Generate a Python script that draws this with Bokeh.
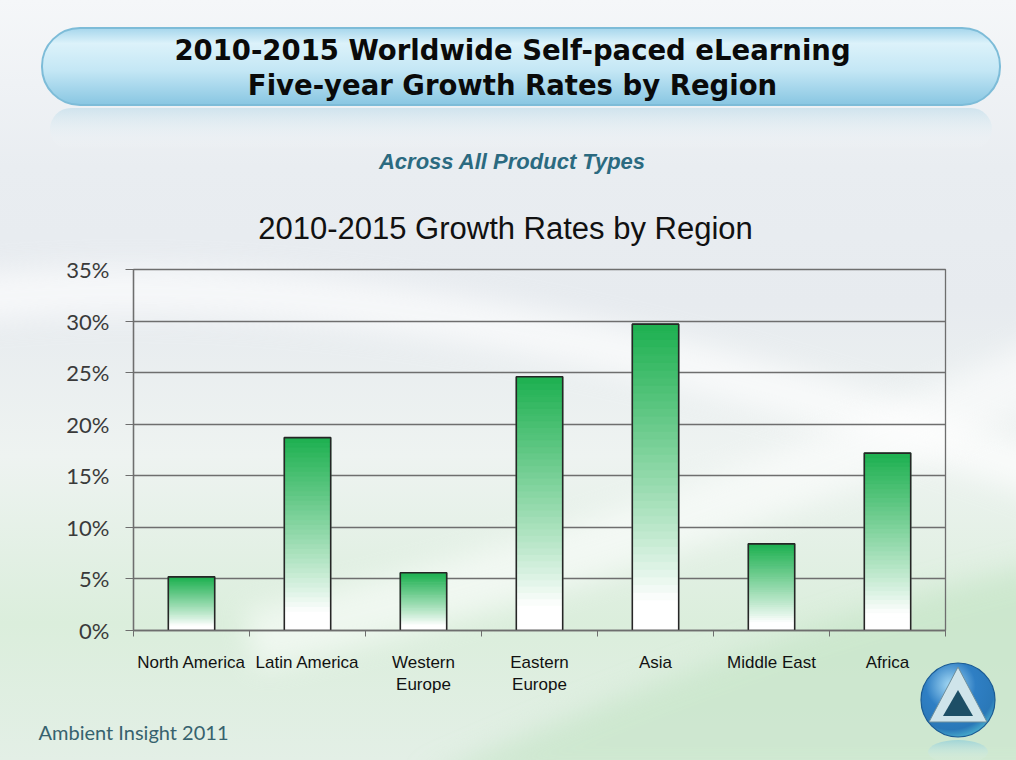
from urllib.parse import quote
from bokeh.plotting import figure
from bokeh.layouts import column
from bokeh.models import (Range1d, FixedTicker, PrintfTickFormatter, Label, ColumnDataSource)
from bokeh.embed import file_html
from bokeh.resources import INLINE

# ---------------- data ----------------
regions = ["North America", "Latin America", "Western Europe", "Eastern Europe",
           "Asia", "Middle East", "Africa"]
region_labels = ["North America", "Latin America", "Western\nEurope", "Eastern\nEurope",
                 "Asia", "Middle East", "Africa"]
growth = [5.2, 18.7, 5.6, 24.6, 29.7, 8.4, 17.2]
y_ticks = [0, 5, 10, 15, 20, 25, 30, 35]

title_lines = ["2010-2015 Worldwide Self-paced eLearning",
               "Five-year Growth Rates by Region"]
subtitle = "Across  All Product Types"
chart_title = "2010-2015 Growth Rates by Region"
footer = "Ambient Insight 2011"

# ---------------- styling ----------------
W = 1016
TOP_H, MAIN_H, BOT_H = 249, 451, 60
GRID = "#6e6e6e"
GREEN = (29, 176, 80)
BAR_W = 0.4

# page background (decoration only: gradient, title capsule, logo)
bg_svg = f"""<svg xmlns='http://www.w3.org/2000/svg' width='{W}' height='760' viewBox='0 0 {W} 760'>
<defs>
<linearGradient id='bg' x1='0' y1='0' x2='0' y2='1'>
<stop offset='0' stop-color='#f5f7f9'/><stop offset='0.22' stop-color='#e9edf1'/>
<stop offset='0.4' stop-color='#e7ebef'/><stop offset='0.6' stop-color='#eef3f1'/>
<stop offset='0.82' stop-color='#dbeedc'/><stop offset='1' stop-color='#e3efe6'/>
</linearGradient>
<linearGradient id='pill' x1='0' y1='0' x2='0' y2='1'>
<stop offset='0' stop-color='#a6d6ec'/><stop offset='0.2' stop-color='#dcf2fa'/>
<stop offset='0.55' stop-color='#c4e7f5'/><stop offset='1' stop-color='#88c6e2'/>
</linearGradient>
<linearGradient id='refl' x1='0' y1='0' x2='0' y2='1'>
<stop offset='0' stop-color='#b7d9e8' stop-opacity='0.55'/><stop offset='1' stop-color='#ffffff' stop-opacity='0'/>
</linearGradient>
<radialGradient id='orb' cx='0.4' cy='0.3' r='0.75'>
<stop offset='0' stop-color='#a8dcf6'/><stop offset='0.45' stop-color='#2f7fc4'/>
<stop offset='0.8' stop-color='#2a78b8'/><stop offset='1' stop-color='#4fb8d0'/>
</radialGradient>
<linearGradient id='orbrefl' x1='0' y1='0' x2='0' y2='1'>
<stop offset='0' stop-color='#7cc6dc' stop-opacity='0.55'/><stop offset='1' stop-color='#ffffff' stop-opacity='0'/>
</linearGradient>
<filter id='blur' x='-20%' y='-50%' width='140%' height='200%'><feGaussianBlur stdDeviation='14'/></filter>
</defs>
<rect width='{W}' height='760' fill='url(#bg)'/>
<path d='M -40 300 Q 420 250 1060 480' stroke='#ffffff' stroke-width='46' fill='none' opacity='0.65' filter='url(#blur)'/>
<path d='M 250 640 Q 700 540 1060 360' stroke='#ffffff' stroke-width='60' fill='none' opacity='0.55' filter='url(#blur)'/>
<path d='M 420 780 Q 780 620 1060 560 L 1060 780 Z' fill='#c6e5c8' opacity='0.7' filter='url(#blur)'/>
<rect x='42' y='28' width='958' height='77' rx='38' fill='url(#pill)' stroke='#7dbcd8' stroke-width='2'/>
<rect x='50' y='108' width='942' height='42' rx='21' fill='url(#refl)'/>
<ellipse cx='958' cy='752' rx='30' ry='12' fill='url(#orbrefl)'/>
<circle cx='958' cy='700' r='37' fill='url(#orb)' stroke='#1b5b94' stroke-width='1.2'/>
<polygon points='958,667 929,722 987,722' fill='#cfe4ea' stroke='#6f8f9c'/>
<polygon points='958,690 943,716 973,716' fill='#1d4f66'/>
</svg>"""
page_style = {"background": 'url("data:image/svg+xml,' + quote(bg_svg, safe="") + '")',
              "background-size": f"{W}px 760px"}


def blank_fig(h):
    f = figure(width=W, height=h, x_range=Range1d(0, W), y_range=Range1d(h, 0),
               output_backend="svg", toolbar_location=None,
               x_axis_location=None, y_axis_location=None, min_border=0,
               frame_align=False)
    f.grid.visible = False
    f.outline_line_color = None
    f.background_fill_alpha = 0
    f.border_fill_alpha = 0
    return f


# ---------------- header (titles) ----------------
top = blank_fig(TOP_H)
for txt, yy in zip(title_lines, [49, 84]):
    top.add_layout(Label(x=512, y=yy, text=txt, text_align="center",
                         text_baseline="middle", text_font="DejaVu Sans",
                         text_font_style="bold", text_font_size="27.5px",
                         text_color="#0a0a0a"))
top.add_layout(Label(x=515, y=161, text=subtitle, text_align="center",
                     text_baseline="middle", text_font="Liberation Sans",
                     text_font_style="bold italic", text_font_size="22px",
                     text_color="#2b6a80"))
top.add_layout(Label(x=505, y=228, text=chart_title, text_align="center",
                     text_baseline="middle", text_font="Liberation Sans",
                     text_font_size="31px", text_color="#111111"))

# ---------------- main chart ----------------
n = len(regions)
centers = [i + 0.5 for i in range(n)]
bounds = list(range(n + 1))

p = figure(width=W, height=MAIN_H,
           x_range=Range1d(0, n), y_range=Range1d(0, 35),
           output_backend="svg", toolbar_location=None,
           min_border_left=133, min_border_right=71,
           min_border_top=20, min_border_bottom=70, frame_align=False)
p.background_fill_alpha = 0
p.border_fill_alpha = 0
p.outline_line_color = GRID
p.outline_line_width = 1.3

ya = p.yaxis[0]
ya.ticker = FixedTicker(ticks=y_ticks)
ya.formatter = PrintfTickFormatter(format="%d%%")
ya.major_tick_out = 8
ya.major_tick_in = 0
ya.minor_tick_line_color = None
ya.axis_line_color = GRID
ya.axis_line_width = 1.3
ya.major_tick_line_color = GRID
ya.major_label_text_font = "Lato"
ya.major_label_text_font_size = "22px"
ya.major_label_text_color = "#3a3a3a"
ya.major_label_standoff = 16

for g in p.ygrid:
    g.ticker = FixedTicker(ticks=y_ticks)
    g.grid_line_color = GRID
    g.grid_line_width = 1.3
for g in p.xgrid:
    g.visible = False

xa = p.xaxis[0]
xa.ticker = FixedTicker(ticks=centers, minor_ticks=bounds)
xa.major_label_overrides = dict(zip(centers, region_labels))
xa.major_tick_line_color = None
xa.major_tick_out = 0
xa.major_tick_in = 0
xa.minor_tick_line_color = GRID
xa.minor_tick_out = 6
xa.minor_tick_in = 0
xa.axis_line_color = GRID
xa.axis_line_width = 1.3
xa.major_label_standoff = 16
xa.major_label_text_font = "Liberation Sans"
xa.major_label_text_font_size = "17px"
xa.major_label_text_color = "#111111"

# bars: vertical green-to-white gradient built from thin slices of each bar
N = 40
sx, sb, st, sc = [], [], [], []
for xc, v in zip(centers, growth):
    for k in range(N):
        fm = (k + 0.5) / N
        t = max(0.0, (fm - 0.1) / 0.9) ** 0.9
        col = "#%02x%02x%02x" % tuple(int(round(255 + (c - 255) * t)) for c in GREEN)
        sx.append(xc)
        sb.append(v * k / N)
        st.append(v * (k + 1) / N)
        sc.append(col)
src = ColumnDataSource(dict(x=sx, bottom=sb, top=st, color=sc))
p.vbar(x="x", bottom="bottom", top="top", width=BAR_W, source=src,
       fill_color="color", line_color="color", line_width=1)

bars = ColumnDataSource(dict(x=centers, region=regions, growth=growth))
p.vbar(x="x", top="growth", width=BAR_W, source=bars, fill_color=None,
       line_color="#262626", line_width=1.6)

# ---------------- footer ----------------
bot = blank_fig(BOT_H)
bot.add_layout(Label(x=38, y=31, text=footer, text_align="left", text_baseline="middle",
                     text_font="Lato", text_font_size="20px", text_color="#37626e"))

layout = column(top, p, bot, spacing=0, styles=page_style)
open("out.html", "w").write(file_html(layout, INLINE))
